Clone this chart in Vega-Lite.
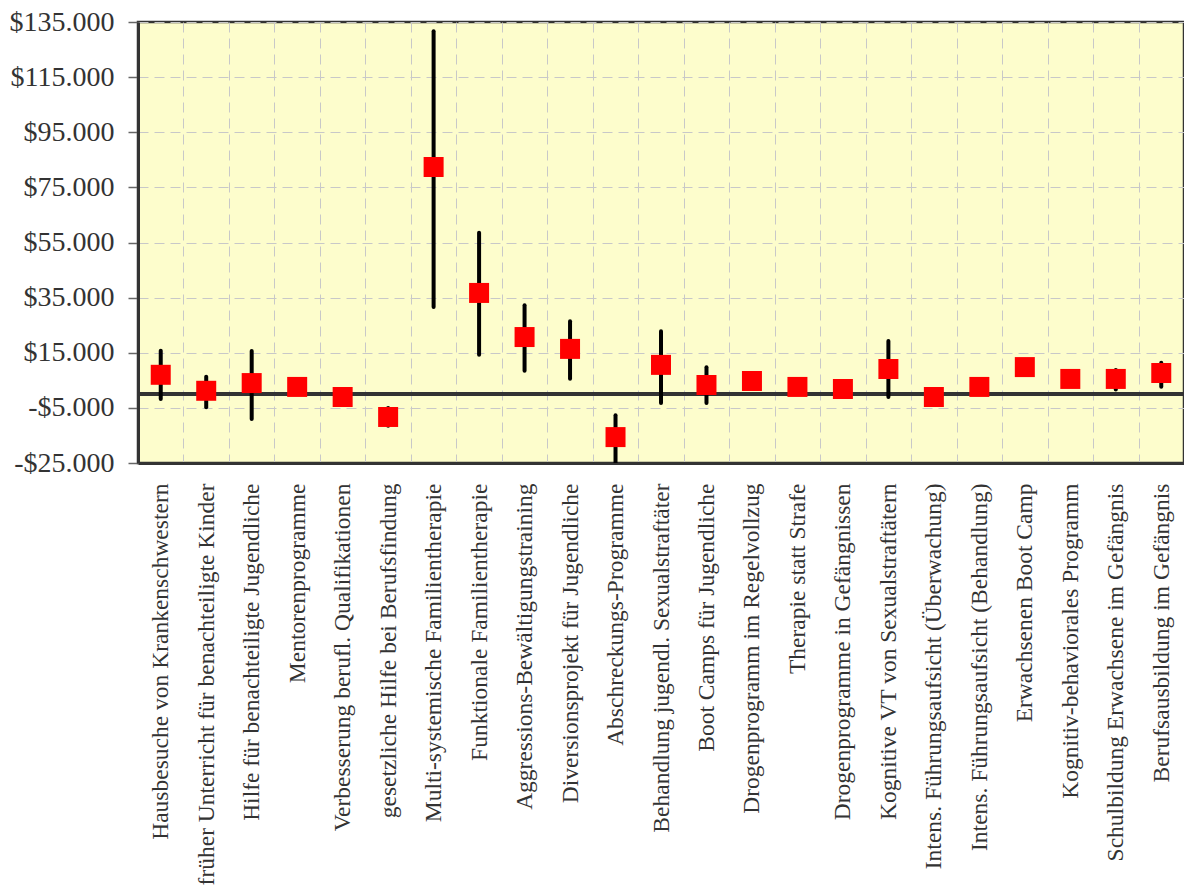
{
  "$schema": "https://vega.github.io/schema/vega-lite/v6.json",
  "autosize": "none",
  "width": 1046,
  "height": 441,
  "padding": {"left": 138, "top": 22, "right": 0, "bottom": 425},
  "background": "white",
  "config": {
    "locale": {"number": {"decimal": ",", "thousands": ".", "grouping": [3], "currency": ["$", ""], "minus": "-"}},
    "view": {"fill": "#fdfdcc", "stroke": "#333333", "strokeWidth": 2.5},
    "font": "Liberation Serif"
  },
  "data": {
    "values": [
      {"name": "Hausbesuche von Krankenschwestern", "mean": 7000, "lo": -1800, "hi": 15700},
      {"name": "früher Unterricht für benachteiligte Kinder", "mean": 1200, "lo": -4800, "hi": 6300},
      {"name": "Hilfe für benachteiligte Jugendliche", "mean": 4000, "lo": -9000, "hi": 15600},
      {"name": "Mentorenprogramme", "mean": 2600},
      {"name": "Verbesserung berufl. Qualifikationen", "mean": -1050, "lo": -4000, "hi": 0},
      {"name": "gesetzliche Hilfe bei Berufsfindung", "mean": -8300, "lo": -11500, "hi": -5000},
      {"name": "Multi-systemische Familientherapie", "mean": 82400, "lo": 31600, "hi": 131600},
      {"name": "Funktionale Familientherapie", "mean": 36700, "lo": 14300, "hi": 58500},
      {"name": "Aggressions-Bewältigungstraining", "mean": 20700, "lo": 8500, "hi": 32200},
      {"name": "Diversionsprojekt für Jugendliche", "mean": 16400, "lo": 5600, "hi": 26400},
      {"name": "Abschreckungs-Programme", "mean": -15600, "lo": -27000, "hi": -7700},
      {"name": "Behandlung jugendl. Sexualstraftäter", "mean": 10600, "lo": -3200, "hi": 22800},
      {"name": "Boot Camps für Jugendliche", "mean": 3300, "lo": -3200, "hi": 9700},
      {"name": "Drogenprogramm im Regelvollzug", "mean": 4750, "lo": 3500, "hi": 6000},
      {"name": "Therapie statt Strafe", "mean": 2600, "lo": 1800, "hi": 3500},
      {"name": "Drogenprogramme in Gefängnissen", "mean": 1850, "lo": 1000, "hi": 2500},
      {"name": "Kognitive VT von Sexualstraftätern", "mean": 9100, "lo": -1050, "hi": 19300},
      {"name": "Intens. Führungsaufsicht (Überwachung)", "mean": -1050},
      {"name": "Intens. Führungsaufsicht (Behandlung)", "mean": 2600, "lo": 1900, "hi": 3300},
      {"name": "Erwachsenen Boot Camp", "mean": 9800},
      {"name": "Kognitiv-behaviorales Programm", "mean": 5500, "lo": 4700, "hi": 6300},
      {"name": "Schulbildung Erwachsene im Gefängnis", "mean": 5500, "lo": 1700, "hi": 8700},
      {"name": "Berufsausbildung im Gefängnis", "mean": 7650, "lo": 2700, "hi": 11400}
    ]
  },
  "encoding": {
    "x": {
      "field": "name", "type": "nominal", "sort": null,
      "scale": {
        "paddingInner": 0, "paddingOuter": 0,
        "domain": [
          "Hausbesuche von Krankenschwestern",
          "früher Unterricht für benachteiligte Kinder",
          "Hilfe für benachteiligte Jugendliche",
          "Mentorenprogramme",
          "Verbesserung berufl. Qualifikationen",
          "gesetzliche Hilfe bei Berufsfindung",
          "Multi-systemische Familientherapie",
          "Funktionale Familientherapie",
          "Aggressions-Bewältigungstraining",
          "Diversionsprojekt für Jugendliche",
          "Abschreckungs-Programme",
          "Behandlung jugendl. Sexualstraftäter",
          "Boot Camps für Jugendliche",
          "Drogenprogramm im Regelvollzug",
          "Therapie statt Strafe",
          "Drogenprogramme in Gefängnissen",
          "Kognitive VT von Sexualstraftätern",
          "Intens. Führungsaufsicht (Überwachung)",
          "Intens. Führungsaufsicht (Behandlung)",
          "Erwachsenen Boot Camp",
          "Kognitiv-behaviorales Programm",
          "Schulbildung Erwachsene im Gefängnis",
          "Berufsausbildung im Gefängnis"
        ]
      },
      "axis": {
        "title": null, "ticks": false, "domain": true, "domainColor": "#333333", "domainWidth": 3,
        "grid": true, "tickBand": "extent",
        "gridColor": "#c8c8c8", "gridDash": [10, 6], "gridWidth": 1,
        "labelAngle": -90, "labelAlign": "right", "labelBaseline": "middle",
        "labelFont": "Liberation Serif", "labelFontSize": 23.5, "labelColor": "#333333",
        "labelPadding": 20, "labelLimit": 0, "labelOverlap": false
      }
    }
  },
  "layer": [
    {
      "mark": {"type": "rule", "color": "#333333", "strokeWidth": 3.5},
      "encoding": {"x": null, "y": {"datum": 0, "type": "quantitative"}}
    },
    {
      "transform": [{"filter": "datum.lo != null"}],
      "mark": {"type": "rule", "color": "black", "strokeWidth": 4, "strokeCap": "round", "clip": true},
      "encoding": {
        "y": {"field": "lo", "type": "quantitative"},
        "y2": {"field": "hi"}
      }
    },
    {
      "mark": {"type": "square", "filled": true, "color": "#ff0000", "opacity": 1, "size": 400},
      "encoding": {
        "y": {
          "field": "mean", "type": "quantitative",
          "scale": {"domain": [-25000, 135000], "nice": false, "zero": false},
          "axis": {
            "title": null, "values": [-25000, -5000, 15000, 35000, 55000, 75000, 95000, 115000, 135000],
            "format": "$,.0f", "grid": true, "gridColor": "#c8c8c8", "gridDash": [10, 6],
            "domain": true, "domainColor": "#333333", "domainWidth": 3,
            "tickColor": "#666666", "tickSize": 10, "tickWidth": 1.5,
            "labelFont": "Liberation Serif", "labelFontSize": 28, "labelColor": "#333333",
            "labelPadding": 14
          }
        }
      }
    }
  ]
}
